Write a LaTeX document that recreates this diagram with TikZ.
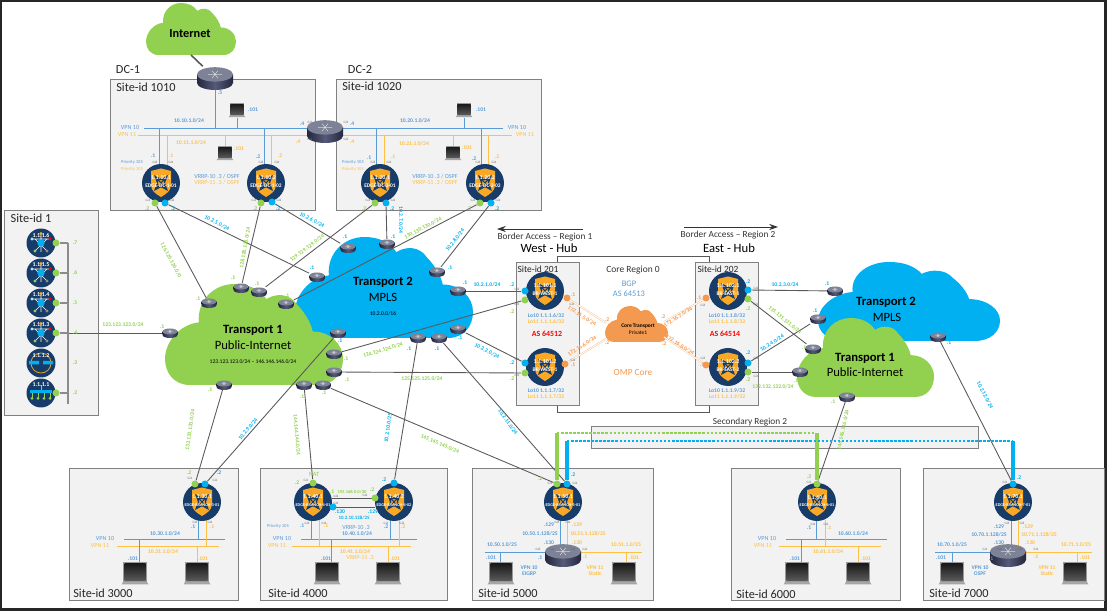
\documentclass[tikz,border=0pt]{standalone}
\usepackage{fontspec}
\setmainfont{Carlito}
\usetikzlibrary{arrows.meta,calc}
\definecolor{cbGreen}{RGB}{146,208,80}
\definecolor{cbSky}{RGB}{0,176,240}
\definecolor{cbVpnBlue}{RGB}{91,155,213}
\definecolor{cbVpnGold}{RGB}{255,192,70}
\definecolor{cbCore}{RGB}{244,153,80}
\definecolor{cbNavy}{RGB}{24,60,105}
\definecolor{cbShield}{RGB}{249,168,37}
\definecolor{cbBox}{RGB}{242,242,242}
\definecolor{cbEdge}{RGB}{128,128,128}
\definecolor{cbWire}{RGB}{89,89,89}
\definecolor{cbRtrA}{RGB}{35,38,62}
\definecolor{cbRtrB}{RGB}{85,90,120}
\definecolor{cbRtrTop}{RGB}{125,130,150}
\pgfdeclarelayer{bg}
\pgfdeclarelayer{links}
\pgfsetlayers{bg,links,main}
\tikzset{
    >=Stealth,
    x=0.02cm,y=-0.02cm,
    sitebox/.style={draw=cbEdge,fill=cbBox,line width=0.5pt},
    sitename/.style={font=\fontsize{7}{8}\selectfont,inner sep=0,text=black!85},
    big/.style={font=\fontsize{7.2}{8}\selectfont,inner sep=0},
    bigb/.style={font=\fontsize{7.2}{8}\selectfont\bfseries,inner sep=0},
    mid/.style={font=\fontsize{5.3}{6}\selectfont,inner sep=0,text=black!80},
    lb/.style={font=\fontsize{3.2}{3.6}\selectfont\bfseries,inner sep=0,text=#1},
    sky/.style={lb=cbSky},
    grn/.style={lb=cbGreen},
    vbl/.style={lb=cbVpnBlue},
    vgd/.style={lb=cbVpnGold},
    cor/.style={lb=cbCore},
    vt/.style={font=\fontsize{3.5}{4}\selectfont,inner sep=0,text=#1},
    gi/.style={font=\fontsize{1.9}{2.2}\selectfont,inner sep=0,text=black!60},
    vedgenode/.style={circle,fill=cbNavy,minimum size=0.76cm,inner sep=0},
    hubnode/.style={circle,fill=cbNavy,minimum size=0.58cm,inner sep=0},
    vedgetxt/.style={text=white,inner sep=0,font=\fontsize{3.4}{3.8}\selectfont\bfseries},
    port/.style={circle,fill=#1,minimum size=0.14cm,inner sep=0},
    rtrnode/.style={inner sep=0},
    wire/.style={draw=cbWire,line width=0.5pt},
    blue wire/.style={draw=cbVpnBlue,line width=0.45pt},
    gold wire/.style={draw=cbVpnGold,line width=0.45pt},
    corelink/.style={draw=cbCore!70,double=white,double distance=0.5pt,line width=0.22pt},
    thickg/.style={draw=cbGreen,line width=2pt},
    thickb/.style={draw=cbSky,line width=2pt},
    dashg/.style={draw=cbGreen,line width=0.7pt,dash pattern=on 1.4pt off 0.9pt},
    dashb/.style={draw=cbSky,line width=0.7pt,dash pattern=on 1.4pt off 0.9pt}
}
% one cloud: name, left, top, width, height, colour
\newcommand{\cloudshape}[6]{%
  \begin{pgfonlayer}{bg}
  \begin{scope}[shift={(#2,#3)},xscale=#4,yscale=#5]
    \fill[#6] (0.14,1) .. controls (0.05,1) and (0,0.88) .. (0,0.74)
      .. controls (0,0.58) and (0.08,0.4) .. (0.19,0.38)
      .. controls (0.18,0.15) and (0.28,0) .. (0.39,0)
      .. controls (0.47,0) and (0.53,0.05) .. (0.57,0.15)
      .. controls (0.62,0.09) and (0.7,0.09) .. (0.74,0.2)
      .. controls (0.78,0.27) and (0.82,0.38) .. (0.83,0.47)
      .. controls (0.93,0.47) and (1,0.6) .. (1,0.74)
      .. controls (1,0.88) and (0.95,1) .. (0.86,1) -- cycle;
  \end{scope}
  \end{pgfonlayer}
  \coordinate (#1) at ($(#2,#3)+(#4/2,#5/2)$);}
% router: [size], name, position
\newcommand{\rtr}[3][1]{%
  \node[rtrnode,minimum width=#1*0.3cm,minimum height=#1*0.19cm] (#2) at (#3) {};
  \begin{scope}[shift={(#2.center)},scale=#1]
    \shade[left color=cbRtrA,right color=cbRtrA,middle color=cbRtrB] (-7.5,-1.5) rectangle (7.5,2);
    \shade[left color=cbRtrA,right color=cbRtrA,middle color=cbRtrB] (0,2) ellipse[x radius=7.5,y radius=3];
    \fill[cbRtrTop] (0,-1.5) ellipse[x radius=7.5,y radius=3];
    \draw[white!85!black,line width=0.25pt] (-3,-1.5) -- (3,-1.5) (-1.2,-3) -- (1.2,0) (1.2,-3) -- (-1.2,0);
  \end{scope}}
% edge router: [font size], name, position, address, host
\newcommand{\vedge}[5][3.1]{%
  \node[vedgenode] (#2) at (#3) {};
  \begin{scope}[shift={(#2.center)}]
    \fill[cbShield] (-10,-12) -- (0,-14.5) -- (10,-12) -- (10,2) .. controls (10,8) and (5,11) .. (0,14)
      .. controls (-5,11) and (-10,8) .. (-10,2) -- cycle;
    \draw[cbNavy,line width=0.6pt,<->] (-7,-8) -- (7,8);
    \draw[cbNavy,line width=0.6pt,<->] (7,-8) -- (-7,8);
    \node[vedgetxt] at (0,-5) {#4};
    \node[vedgetxt,font=\fontsize{#1}{#1}\selectfont\bfseries] at (0,3) {#5};
  \end{scope}}
% controller in Site-id 1: name, y, address
\newcommand{\hubdev}[3]{%
  \node[hubnode] (#1) at (41,#2) {};
  \begin{scope}[shift={(#1.center)}]
    \draw[white,line width=0.3pt] (0,-9) -- (0,9) (-9,-4) -- (9,-4) (-6,8) -- (6,-4) (6,8) -- (-6,-4);
    \fill[cbShield] (0,-9.5) circle[radius=1.7];
    \fill[white!70!cbSky] (-9,-4) circle[radius=1.6];
    \fill[red] (9,-4) circle[radius=1.7];
    \fill[cbGreen] (-6,8) circle[radius=1.7];
    \fill[black!45] (6,8) circle[radius=1.7];
    \fill[cbSky] (0,0) circle[radius=3.7];
    \node[vedgetxt] at (0,-8) {#3};
  \end{scope}}
% laptop: [size], name, position
\newcommand{\laptop}[3][1]{%
  \node[rtrnode,minimum width=#1*0.52cm,minimum height=#1*0.46cm] (#2) at (#3) {};
  \begin{scope}[shift={(#2.center)},scale=#1]
    \fill[black!40] (-12,-11) rectangle (12,9);
    \shade[top color=black!90,bottom color=black!65] (-10.5,-9.5) rectangle (10.5,7.5);
    \fill[black!35] (-12,9) -- (12,9) -- (13.5,11.5) -- (-13.5,11.5) -- cycle;
  \end{scope}}
\begin{document}
\begin{tikzpicture}
  \useasboundingbox (0,0) rectangle (1107,611);

  % frame, boxes
  \begin{pgfonlayer}{bg}
    \draw[black!85,line width=1.4pt] (1,0.3) rectangle (1105.7,609.6);
    \draw[sitebox] (110,79) rectangle (315,210);
    \draw[sitebox] (336,79) rectangle (541,210);
    \draw[sitebox] (4,210) rectangle (98,415);
    \draw[cbWire,line width=0.5pt,fill=white] (557,256) rectangle (709,412);
    \draw[sitebox] (516,262) rectangle (579,405);
    \draw[sitebox] (695,262) rectangle (758,405);
    \draw[sitebox] (591,426) rectangle (978,448);
    \draw[sitebox] (69,468) rectangle (238,600);
    \draw[sitebox] (260,468) rectangle (447,600);
    \draw[sitebox] (472,468) rectangle (653,600);
    \draw[sitebox] (731,468) rectangle (900,600);
    \draw[sitebox] (923,468) rectangle (1104,600);
  \end{pgfonlayer}

  % clouds
  \cloudshape{inet}{146}{3}{90}{52}{cbGreen}
  \cloudshape{mplsW}{295}{237}{178}{101}{cbSky}
  \cloudshape{inetW}{165}{284}{178}{101}{cbGreen}
  \cloudshape{mplsE}{818}{262}{182}{79}{cbSky}
  \cloudshape{inetE}{797}{318}{137}{79}{cbGreen}
  \cloudshape{core}{605}{306}{63}{36}{cbCore}

  % edge routers
  \vedge{dc1a}{161,183}{1.1.10.1}{EDGE-DC-1-01}
  \vedge{dc1b}{266,183}{1.1.10.2}{EDGE-DC-1-02}
  \vedge{dc2a}{380,183}{1.1.20.1}{EDGE-DC-2-01}
  \vedge{dc2b}{485,183}{1.1.20.2}{EDGE-DC-2-02}
  \vedge{west1}{545,291}{1.1.101.1}{BR-WEST-1}
  \vedge{west2}{545,367}{1.1.101.2}{BR-WEST-1}
  \vedge{east1}{728,291}{1.1.102.1}{BR-EAST-1}
  \vedge{east2}{728,367}{1.1.102.2}{BR-EAST-2}
  \vedge[2.4]{br3}{202,502}{1.1.30.1}{EDGE-BRANCH-3-01}
  \vedge[2.4]{br4a}{313,502}{1.1.40.1}{EDGE-BRANCH-4-01}
  \vedge[2.4]{br4b}{394,502}{1.1.40.2}{EDGE-BRANCH-4-02}
  \vedge[2.4]{br5}{563,502}{1.1.50.1}{EDGE-BRANCH-5-01}
  \vedge[2.4]{br6}{817,502}{1.1.60.1}{EDGE-BRANCH-6-01}
  \vedge[2.4]{br7}{1013,502}{1.1.70.1}{EDGE-BRANCH-7-01}

  % controllers
  \hubdev{ctrlF}{243}{1.1.1.6}
  \hubdev{ctrlE}{273}{1.1.1.5}
  \hubdev{ctrlD}{303}{1.1.1.4}
  \hubdev{ctrlC}{333}{1.1.1.3}
  \node[hubnode] (ctrlB) at (41,363) {};
  \draw[cbShield,line width=0.4pt] (41,363) circle[radius=10];
  \fill[cbSky] (29,361) rectangle (39,364.5) (43,361) rectangle (53,364.5);
  \node[vedgetxt] at (41,356) {1.1.1.2};
  \node[hubnode] (ctrlA) at (41,393) {};
  \fill[cbSky] (30,390) rectangle (52,393.5);
  \draw[cbShield,line width=0.4pt] (41,385) -- (41,390);
  \foreach \x in {32,38,44,50} {
    \draw[cbGreen,line width=0.3pt] (\x,393) -- (\x,398);
    \fill[cbGreen] (\x,398.5) circle[radius=1.5];
  }
  \node[vedgetxt] at (41,385) {1.1.1.1};

  % routers
  \rtr[2.4]{rtop}{215,78}
  \rtr[2.4]{rdc}{325,131}
  \rtr[2.4]{r5k}{563,555}
  \rtr[2.4]{r7k}{1008,555}
  \foreach \n/\x/\y in {ta/170/333,tb/209/303,tc/241/288,td/259/292,te/286/304,tf/317/277,tg/348/248,
      th/338/333,ti/334/354,tj/334/372,tk/323/385,tl/304/385,tm/224/385,
      tn/387/244,to/437/272,tp/458/291,tq/458/329,tr/439/338,ts/418/338,
      tt/835/291,tu/818/319,tv/813/349,tw/800/372,tx/847/397,ty/938/337} {
    \rtr{\n}{\x,\y}
  }

  % ports
  \foreach \n/\x/\y in {pa/155/203,pb/261/203,pc/375/203,pd/480/203,pe/525/300,pf/525/373,pg/748/299,ph/748/372,
      pi/195/484,pj/313/483,pk/375/498,pl/557/484,pm/817/484,
      sa/56/243,sb/56/273,sc/56/303,sd/56/333,se/56/393} {
    \node[port=cbGreen] (\n) at (\x,\y) {};
  }
  \foreach \n/\x/\y in {qa/165/203,qb/272/202,qc/386/203,qd/491/203,qe/525/291,qf/525/363,qg/748/290,qh/748/363,
      qi/205/484,qj/394/483,qk/333/507,ql/567/484,qm/1013/484} {
    \node[port=cbSky] (\n) at (\x,\y) {};
  }
  \foreach \n/\x/\y in {oa/567/298,ob/565/364,oc/706/298,od/706/365} {
    \node[port=cbCore] (\n) at (\x,\y) {};
  }

  % laptops
  \laptop[0.62]{lapA}{237,110}
  \laptop[0.62]{lapB}{225,153}
  \laptop[0.62]{lapC}{464,110}
  \laptop[0.62]{lapD}{453,153}
  \foreach \n/\x in {lapE/135,lapF/197,lapG/327,lapH/388,lapI/501,lapJ/624,lapK/797,lapL/858,lapM/952,lapN/1075} {
    \laptop{\n}{\x,573}
  }

  % connectors
  \begin{pgfonlayer}{links}
    \draw[cbWire,line width=0.9pt] (inet |- 0,55) -- (rtop);
    \foreach \a/\b in {pa/tb,qa/tf,pb/tc,qb/tg,pc/td,qc/tn,pd/te,qd/to,qe/tp,pe/ti,qf/tq,pf/tj,
        qg/tt,pg/tv,qh/tu,ph/tw,pi/tm,qi/th,pj/tl,qj/ts,pl/tk,ql/tr,pm/tx,qm/ty,sd/ta} {
      \draw[wire] (\a) -- (\b);
    }
    \coordinate (busTop) at (68,243);
    \coordinate (busEnd) at (68,404);
    \draw[cbWire!70,line width=0.9pt] (busTop) -- (busEnd);
    \foreach \a/\y in {sa/243,sb/273,sc/303,sd/333,se/393} {
      \coordinate (tap\a) at (68,\y);
      \draw[cbWire!70,line width=0.7pt] (\a) -- (tap\a);
    }
    % inter-site wires, as style and both ends
    \foreach \s/\xa/\ya/\xb/\yb [count=\i] in {
        blue wire/215/85/215/128, blue wire/144/128/310/128, gold wire/138/135/310/135,
        blue wire/340/128/503/128, gold wire/340/135/512/135,
        blue wire/159/128/159/165, gold wire/167/135/167/165, blue wire/264/128/264/165, gold wire/271/135/271/165,
        blue wire/376/128/376/165, gold wire/384/135/384/165, blue wire/481/128/481/165, gold wire/488/135/488/165,
        blue wire/237/118/237/128, gold wire/225/135/225/146, blue wire/464/118/464/128, gold wire/453/135/453/146,
        blue wire/124/539/225/539, gold wire/117/546/219/546, blue wire/198/520/198/539, gold wire/206/520/206/546,
        blue wire/139/539/139/562, gold wire/197/546/197/562,
        blue wire/301/539/417/539, gold wire/292/546/411/546, blue wire/311/520/311/539, gold wire/319/520/319/546,
        blue wire/390/520/390/539, gold wire/399/520/399/546, blue wire/331/539/331/562, gold wire/388/546/388/562,
        blue wire/560/520/560/547, gold wire/567/520/567/547, blue wire/485/552/545/552, gold wire/581/552/642/552,
        blue wire/500/552/500/562, gold wire/626/552/626/562,
        blue wire/786/539/887/539, gold wire/779/546/881/546, blue wire/816/520/816/539, gold wire/825/520/825/546,
        blue wire/801/539/801/562, gold wire/858/546/858/562,
        blue wire/1011/520/1011/547, gold wire/1018/520/1018/547, blue wire/935/552/990/552, gold wire/1026/552/1092/552,
        blue wire/952/552/952/562, gold wire/1077/552/1077/562,
        wire/332/498/375/498, wire/333/507/375/507} {
      \coordinate (w\i a) at (\xa,\ya);
      \coordinate (w\i b) at (\xb,\yb);
      \draw[\s] (w\i a) -- (w\i b);
    }
    % secondary region overlay
    \coordinate (dgA) at (557,433);
    \coordinate (dgB) at (814,433);
    \coordinate (dgC) at (817,433);
    \coordinate (dbA) at (567,441);
    \coordinate (dbB) at (1013,441);
    \draw[thickg] (pl) -- (dgA);
    \draw[dashg] (dgA) -- (dgB);
    \draw[thickg] (pm) -- (dgC);
    \draw[thickb] (ql) -- (dbA);
    \draw[dashb] (dbA) -- (dbB);
    \draw[thickb] (qm) -- (dbB);
    % core links
    \coordinate (coreWa) at (606,323);
    \coordinate (coreWb) at (606,339);
    \coordinate (coreEa) at (664,322);
    \coordinate (coreEb) at (664,337);
    \draw[corelink] (oa) -- (coreWa);
    \draw[corelink] (ob) -- (coreWb);
    \draw[corelink] (oc) -- (coreEa);
    \draw[corelink] (od) -- (coreEb);
  \end{pgfonlayer}

  % border arrows
  \coordinate (arrWa) at (583,229);
  \coordinate (arrWb) at (497,229);
  \coordinate (arrEa) at (684,227);
  \coordinate (arrEb) at (778,227);
  \draw[->,black!80,line width=0.5pt,>={Stealth[length=5pt,width=3.5pt]}] (arrWa) -- (arrWb);
  \draw[->,black!80,line width=0.5pt,>={Stealth[length=5pt,width=3.5pt]}] (arrEa) -- (arrEb);

  % big texts
  \node[font=\fontsize{7}{8}\selectfont\bfseries,inner sep=0] at (190,34) {Internet};
  \node[bigb] at (253,330) {Transport 1};
  \node[big] at (253,345) {Public-Internet};
  \node[lb=black,font=\fontsize{3.2}{3.6}\selectfont] at (253,362) {123.123.123.0/24 -- 146.146.146.0/24};
  \node[bigb] at (383,282) {Transport 2};
  \node[big] at (383,297) {MPLS};
  \node[lb=black,font=\fontsize{3.2}{3.6}\selectfont] at (383,314) {10.2.0.0/16};
  \node[bigb] at (886,302) {Transport 2};
  \node[big] at (887,317) {MPLS};
  \node[bigb] at (865,358) {Transport 1};
  \node[big] at (865,372) {Public-Internet};
  \node[font=\fontsize{3.1}{3.6}\selectfont\bfseries,inner sep=0] at (638,326) {Core Transport};
  \node[font=\fontsize{3.1}{3.6}\selectfont,inner sep=0] at (638,333) {Private1};
  \node[sitename] at (128,70) {DC-1};
  \node[sitename] at (360,70) {DC-2};
  \node[sitename] at (146,87) {Site-id 1010};
  \node[sitename] at (372,86) {Site-id 1020};
  \node[sitename] at (31,218) {Site-id 1};
  \node[sitename,font=\fontsize{5.4}{6}\selectfont] at (538,269) {Site-id 201};
  \node[sitename,font=\fontsize{5.4}{6}\selectfont] at (718,269) {Site-id 202};
  \node[sitename] at (103,593) {Site-id 3000};
  \node[sitename] at (298,593) {Site-id 4000};
  \node[sitename] at (508,593) {Site-id 5000};
  \node[sitename] at (766,594) {Site-id 6000};
  \node[sitename] at (959,593) {Site-id 7000};
  \node[mid] at (545,237) {Border Access -- Region 1};
  \node[mid] at (728,235) {Border Access -- Region 2};
  \node[big] at (549,248) {West - Hub};
  \node[big] at (729,248) {East - Hub};
  \node[mid,font=\fontsize{5.4}{6}\selectfont] at (633,270) {Core Region 0};
  \node[mid,text=cbVpnBlue,font=\fontsize{4.8}{6}\selectfont] at (629,284) {BGP};
  \node[mid,text=cbVpnBlue,font=\fontsize{4.8}{6}\selectfont] at (629,294) {AS 64513};
  \node[mid,text=cbCore] at (633,373) {OMP Core};
  \node[mid,text=red,font=\fontsize{4.5}{6}\selectfont\bfseries] at (547,334) {AS 64512};
  \node[mid,text=red,font=\fontsize{4.5}{6}\selectfont\bfseries] at (725,334) {AS 64514};
  \node[mid] at (750,422) {Secondary Region 2};

  % link subnets
  \node[grn] at (123,325) {123.123.123.0/24};
  \node[grn,rotate=-62] at (171,260) {126.126.126.0/0};
  \node[sky,rotate=-27] at (217,223) {10.2.5.0/24};
  \node[grn,rotate=80] at (245,248) {128.128.128.0/24};
  \node[sky,rotate=-27] at (312,220) {10.2.6.0/24};
  \node[grn,rotate=37] at (307,248) {129.129.129.0/24};
  \node[sky,rotate=-90] at (401,220) {10.2.7.0/24};
  \node[grn,rotate=28] at (423,228) {130.130.130.0/24};
  \node[sky,rotate=52] at (455,240) {10.2.8.0/24};
  \node[sky] at (487,285) {10.2.1.0/24};
  \node[grn,rotate=17] at (383,350) {124.124.124.0/24};
  \node[grn] at (422,379) {125.125.125.0/24};
  \node[sky,rotate=-27] at (487,351) {10.2.2.0/24};
  \node[sky,rotate=-55] at (508,422) {10.2.11.0/24};
  \node[grn,rotate=-23] at (440,444) {145.145.145.0/24};
  \node[grn,rotate=-85] at (297,435) {144.144.144.0/24};
  \node[sky,rotate=82] at (388,428) {10.2.10.0/25};
  \node[grn,rotate=82] at (190,430) {133.133.133.0/24};
  \node[sky,rotate=50] at (248,429) {10.2.9.0/24};
  \node[sky] at (785,285) {10.2.3.0/24};
  \node[grn,rotate=-40] at (785,320) {131.131.131.0/24};
  \node[sky,rotate=33] at (772,343) {10.2.4.0/24};
  \node[grn] at (773,387) {132.132.132.0/24};
  \node[grn,rotate=78] at (843,430) {146.146.146.0/24};
  \node[sky,rotate=-63] at (985,395) {10.2.12.0/24};
  \node[cor,rotate=-33] at (582,316) {172.16.5.0/24};
  \node[cor,rotate=33] at (582,346) {172.16.6.0/24};
  \node[cor,rotate=33] at (678,317) {172.16.7.0/24};
  \node[cor,rotate=-33] at (680,345) {172.16.8.0/24};

  % loopbacks
  \node[vbl] at (546,316) {Lo10 1.1.1.6/32};
  \node[vgd] at (546,322) {Lo11 1.1.1.6/32};
  \node[vbl] at (546,391) {Lo10 1.1.1.7/32};
  \node[vgd] at (546,397) {Lo11 1.1.1.7/32};
  \node[vbl] at (727,316) {Lo10 1.1.1.8/32};
  \node[vgd] at (727,322) {Lo11 1.1.1.8/32};
  \node[vbl] at (727,391) {Lo10 1.1.1.9/32};
  \node[vgd] at (727,397) {Lo11 1.1.1.9/32};

  % lan subnets
  \node[vbl] at (189,121) {10.10.1.0/24};
  \node[vgd] at (191,143) {10.11.1.0/24};
  \node[vbl] at (415,121) {10.20.1.0/24};
  \node[vgd] at (414,144) {10.21.1.0/24};
  \node[vbl] at (165,534) {10.30.1.0/24};
  \node[vgd] at (163,552) {10.31.1.0/24};
  \node[vbl] at (357,534) {10.40.1.0/24};
  \node[vgd] at (355,552) {10.41.1.0/24};
  \node[grn,font=\fontsize{2.6}{3}\selectfont\bfseries] at (352,492) {192.168.0.0/30};
  \node[sky,font=\fontsize{2.8}{3}\selectfont\bfseries] at (354,518) {10.2.10.128/25};
  \node[vbl] at (540,534) {10.50.1.128/25};
  \node[vgd] at (588,534) {10.51.1.128/25};
  \node[vbl] at (502,545) {10.50.1.0/25};
  \node[vgd] at (626,545) {10.51.1.0/25};
  \node[vbl] at (853,534) {10.60.1.0/24};
  \node[vgd] at (828,552) {10.61.1.0/24};
  \node[vbl] at (989,535) {10.70.1.128/25};
  \node[vgd] at (1039,535) {10.71.1.128/25};
  \node[vbl] at (952,545) {10.70.1.0/25};
  \node[vgd] at (1076,545) {10.71.1.0/25};

  % vpn names
  \foreach \x/\y in {130/128,517/128,105/539,282/539,767/539} {
    \node[vt=cbVpnBlue] at (\x,\y) {VPN 10};
  }
  \foreach \x/\y in {127/135,525/135,100/546,277/546,763/546} {
    \node[vt=cbVpnGold] at (\x,\y) {VPN 11};
  }
  \node[lb=cbVpnBlue] at (529,568) {VPN 10};
  \node[lb=cbVpnBlue] at (529,574) {EIGRP};
  \node[lb=cbVpnGold] at (595,568) {VPN 11};
  \node[lb=cbVpnGold] at (595,574) {Static};
  \node[lb=cbVpnBlue] at (980,568) {VPN 10};
  \node[lb=cbVpnBlue] at (980,574) {OSPF};
  \node[lb=cbVpnGold] at (1047,568) {VPN 11};
  \node[lb=cbVpnGold] at (1047,574) {Static};
  \foreach \x in {217,435} {
    \node[vt=cbVpnBlue] at (\x,176) {VRRP-10 .3 / OSPF};
    \node[vt=cbVpnGold] at (\x,182) {VRRP-11 .3 / OSPF};
  }
  \node[vt=cbVpnBlue] at (356,528) {VRRP-10 .3};
  \node[vt=cbVpnGold] at (360,558) {VRRP-11 .3};
  \foreach \x/\y in {132/162,353/162,278/526} {
    \node[lb=cbVpnBlue,font=\fontsize{2.6}{3}\selectfont] at (\x,\y) {Priority 105};
  }
  \foreach \x in {132,353} {
    \node[lb=cbVpnGold,font=\fontsize{2.6}{3}\selectfont] at (\x,169) {Priority 105};
  }
  \node[grn,font=\fontsize{3.6}{4}\selectfont] at (314,474) {NAT};

  % host addresses
  \foreach \x/\y/\t in {220/93/.5,153/156/.1,258/157/.2,369/158/.1,474/159/.2,
      302/124/.4,352/124/.4,133/559/.101,326/559/.101,491/558/.101,795/559/.101,941/558/.101,
      253/110/.101,481/110/.101,193/527/.1,302/526/.1,386/527/.2,809/528/.1,
      549/525/.129,999/527/.129,549/543/.130,999/543/.130,540/558/.1,991/559/.1} {
    \node[vbl] at (\x,\y) {\t};
  }
  \foreach \x/\y/\t in {171/156/.1,280/156/.2,393/157/.1,497/157/.2,298/142/.4,352/142/.4,
      239/149/.101,467/148/.101,212/527/.1,326/526/.1,403/527/.2,829/528/.1,
      203/559/.101,395/559/.101,634/558/.101,866/559/.101,1085/558/.101,
      577/525/.129,1028/527/.129,577/543/.130,1030/543/.130,585/557/.1,1036/557/.1} {
    \node[vgd] at (\x,\y) {\t};
  }
  \foreach \x/\y/\t in {312/268/.1,345/237/.1,340/341/.1,393/237/.1,450/268/.1,465/283/.1,460/338/.1,437/349/.1,409/349/.1,
      827/284/.1,815/311/.1,949/343/.1,
      512/285/.2,512/363/.2,748/282/.2,748/353/.2,219/473/.2,384/480/.2,573/475/.2,1019/478/.2,
      173/209/.2,278/209/.2,392/209/.2,497/209/.2,340/512/.130,373/512/.129} {
    \node[sky] at (\x,\y) {\t};
  }
  \foreach \x/\y/\t in {162/327/.1,198/299/.1,233/278/.1,257/284/.1,287/296/.1,346/359/.1,347/380/.1,324/393/.1,302/397/.1,210/390/.1,
      804/348/.1,796/381/.1,833/402/.1,
      512/312/.2,512/379/.2,748/309/.2,748/380/.2,189/473/.2,297/483/.2,540/479/.2,809/477/.2,
      147/209/.2,255/209/.2,364/209/.2,469/209/.2,332/492/.1,372/490/.2,
      75/243/.7,75/273/.6,75/303/.5,75/333/.4,75/363/.3,75/393/.2} {
    \node[grn] at (\x,\y) {\t};
  }
  \foreach \x/\y/\t in {573/295/.1,573/365/.1,607/320/.2,607/343/.2,699/298/.1,702/365/.1,663/317/.2,664/344/.2} {
    \node[cor] at (\x,\y) {\t};
  }

  % interface names
  \foreach \x/\y/\t in {155/162/Gi3,171/162/Gi4,261/162/Gi3,277/162/Gi4,373/162/Gi3,389/162/Gi4,478/162/Gi3,494/162/Gi4,
      148/200/Gi1,172/200/Gi2,254/200/Gi1,279/200/Gi2,368/200/Gi1,393/200/Gi2,473/200/Gi1,498/200/Gi2,
      310/122/Gi1,346/122/Gi2,310/139/Gi3,346/139/Gi4,
      517/289/Gi2,517/304/Gi1,517/359/Gi2,517/375/Gi1,756/288/Gi2,756/304/Gi1,756/358/Gi2,756/376/Gi1,
      572/304/Gi3,573/360/Gi3,703/305/Gi3,703/358/Gi3,
      190/478/Gi1,215/480/Gi2,195/522/Gi3,210/522/Gi4,306/480/Gi1,336/496/Gi2,336/503/Gi3,365/495/Gi2,
      307/523/Gi4,324/523/Gi3,386/523/Gi4,402/523/Gi3,550/483/Gi1,575/483/Gi2,557/522/Gi3,568/522/Gi4,
      809/482/Gi1,813/524/Gi4,826/524/Gi3,1005/482/Gi1,1007/523/Gi4,1022/523/Gi3,
      538/549/Gi3,573/549/Gi2,585/549/Gi4,552/549/Gi2,1000/549/Gi2,1020/549/Gi3,985/549/Gi1,1036/549/Gi4} {
    \node[gi] at (\x,\y) {\t};
  }
\end{tikzpicture}
\end{document}
